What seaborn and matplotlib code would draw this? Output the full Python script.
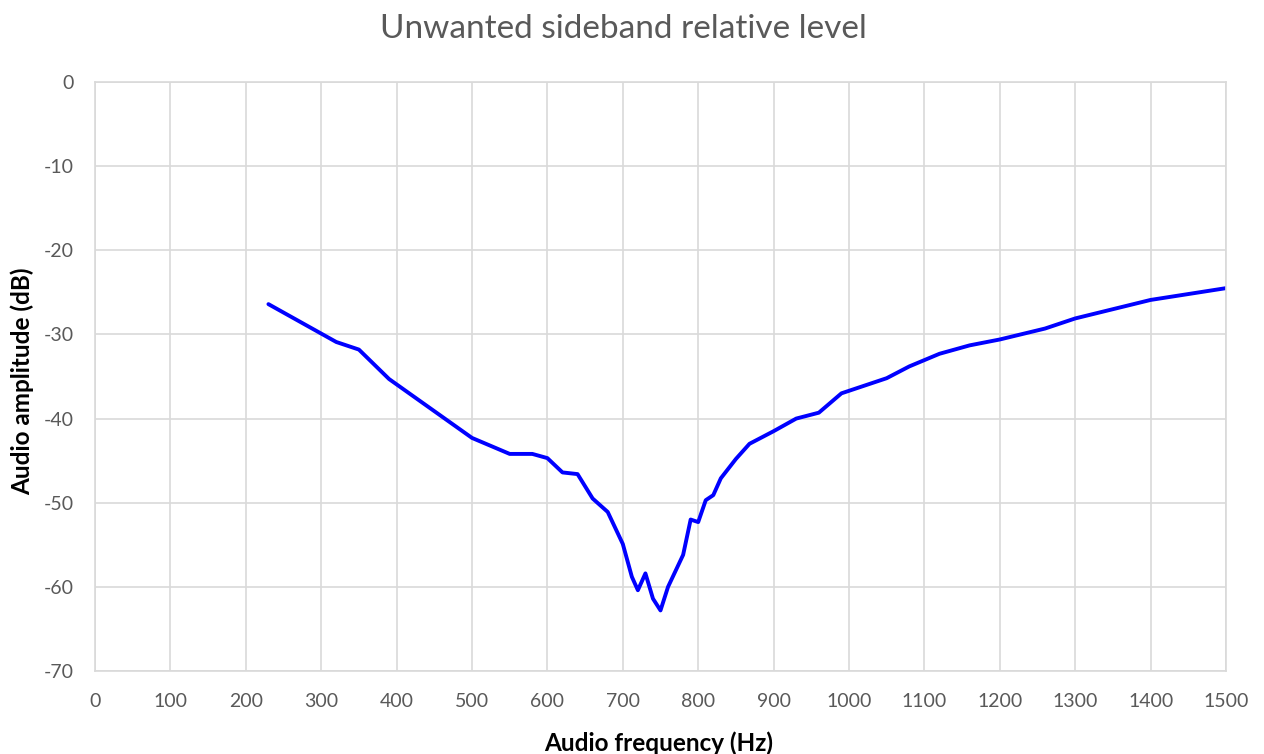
import matplotlib
matplotlib.use("Agg")
import matplotlib.pyplot as plt
import seaborn as sns
import pandas as pd

freq_hz = [230, 300, 320, 350, 390, 500, 550, 580, 600, 620, 640, 660, 680, 700,
           712, 720, 730, 740, 750, 760, 780, 790, 800, 810, 820, 830, 850, 868,
           900, 930, 960, 990, 1050, 1080, 1120, 1160, 1200, 1260, 1300, 1350,
           1400, 1500]
level_db = [-26.4, -29.9, -30.9, -31.8, -35.3, -42.3, -44.2, -44.2, -44.7, -46.4,
            -46.6, -49.5, -51.1, -54.9, -58.8, -60.4, -58.4, -61.4, -62.8, -60.0,
            -56.2, -52.0, -52.3, -49.7, -49.1, -47.1, -44.8, -43.0, -41.5, -40.0,
            -39.3, -37.0, -35.2, -33.8, -32.3, -31.3, -30.6, -29.3, -28.1, -27.0,
            -25.9, -24.5]

x_ticks = list(range(0, 1501, 100))
y_ticks = list(range(-70, 1, 10))

df = pd.DataFrame({"freq": freq_hz, "level": level_db})

sns.set_theme(style="whitegrid")
plt.rcParams["font.family"] = ["Lato", "DejaVu Sans"]
plt.rcParams["axes.unicode_minus"] = False

fig = plt.figure(figsize=(12.64, 7.54), dpi=100)
ax = fig.add_axes([95 / 1264, 83 / 754, (1226 - 95) / 1264, (671 - 82) / 754])

sns.lineplot(data=df, x="freq", y="level", sort=False, color="#0000ff",
             linewidth=2.8, ax=ax)

ax.set_xlim(0, 1500)
ax.set_ylim(-70, 0)
ax.set_xticks(x_ticks)
ax.set_yticks(y_ticks)
ax.grid(True, color="#d9d9d9", linewidth=1.2)
for s in ax.spines.values():
    s.set_color("#d9d9d9")
    s.set_linewidth(1.2)
ax.tick_params(axis="both", length=0, labelsize=14, labelcolor="#595959")
ax.tick_params(axis="x", pad=16)
ax.tick_params(axis="y", pad=15)

ax.set_xlabel("Audio frequency (Hz)", fontsize=17.5, fontweight="bold",
              color="#000000", va="center")
ax.set_ylabel("Audio amplitude (dB)", fontsize=17.5, fontweight="bold",
              color="#000000", va="center")
ax.xaxis.set_label_coords((659 - 95) / 1131, (671 - 743) / 589)
ax.yaxis.set_label_coords((22 - 95) / 1131, (671 - 381) / 589)
fig.text(623 / 1264, 1 - 29 / 754, "Unwanted sideband relative level",
         ha="center", va="center", fontsize=24, color="#595959")

fig.savefig("out.png", dpi=100)
